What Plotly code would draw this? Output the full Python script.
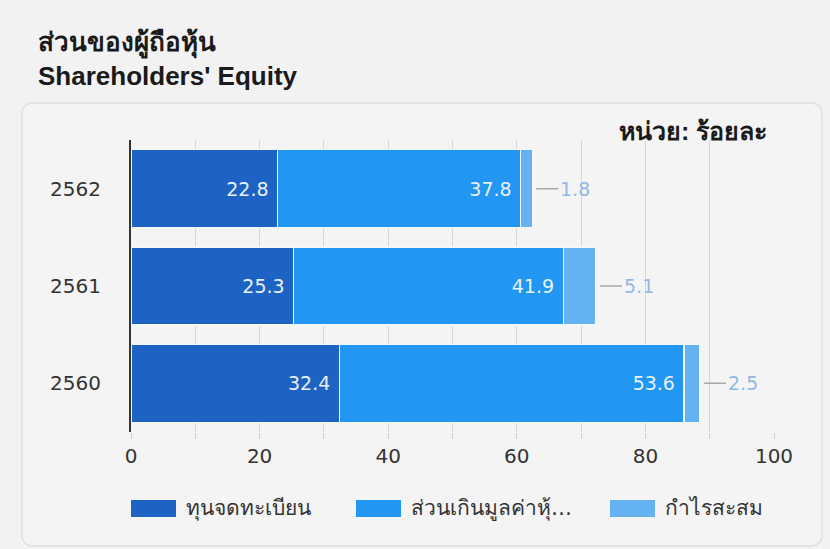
import plotly.graph_objects as go

years = ["2562", "2561", "2560"]
series_names = ["ทุนจดทะเบียน", "ส่วนเกินมูลค่าหุ้…", "กำไรสะสม"]
paid_up = [22.8, 25.3, 32.4]
premium = [37.8, 41.9, 53.6]
retained = [1.8, 5.1, 2.5]
x_ticks = [0, 20, 40, 60, 80, 100]

colors = ["#1c63c3", "#2196f3", "#64b2f2"]
W, H = 830, 549
L, R, T, B = 131, 56, 140, 117
cat_order = years[::-1]  # bottom to top

fig = go.Figure()
for name, vals, col, inside in [
    (series_names[0], paid_up, colors[0], True),
    (series_names[1], premium, colors[1], True),
    (series_names[2], retained, colors[2], False),
]:
    fig.add_trace(go.Bar(
        y=years, x=vals, name=name, orientation="h",
        marker=dict(color=col, line=dict(color="#f4f8fc", width=1.2)),
        text=[f"{v:.1f}\u00a0" for v in vals] if inside else None,
        textposition="inside" if inside else "none",
        insidetextanchor="end",
        textfont=dict(color="#e8f1fb", size=19, family="DejaVu Sans"),
        showlegend=False,
    ))

# outside labels with leader lines for the last series
totals = [a + b + c for a, b, c in zip(paid_up, premium, retained)]
for yr, tot, v in zip(years, totals, retained):
    fig.add_annotation(
        x=tot, y=cat_order.index(yr), xref="x", yref="y", text=f"{v:.1f}",
        showarrow=True, arrowhead=0,
        arrowwidth=1.5, arrowcolor="#a8a8a8", ax=26, ay=0, standoff=4,
        xanchor="left", font=dict(color="#93b8e6", size=19, family="DejaVu Sans"),
    )

px2x = lambda p: (p - L) / (W - L - R)
py2y = lambda p: (H - B - p) / (H - T - B)

# card background
x0, x1, y0, y1, rr = 22, 822, 103, 546, 12
path = (f"M {px2x(x0+rr)} {py2y(y0)} L {px2x(x1-rr)} {py2y(y0)} "
        f"Q {px2x(x1)} {py2y(y0)} {px2x(x1)} {py2y(y0+rr)} "
        f"L {px2x(x1)} {py2y(y1-rr)} Q {px2x(x1)} {py2y(y1)} {px2x(x1-rr)} {py2y(y1)} "
        f"L {px2x(x0+rr)} {py2y(y1)} Q {px2x(x0)} {py2y(y1)} {px2x(x0)} {py2y(y1-rr)} "
        f"L {px2x(x0)} {py2y(y0+rr)} Q {px2x(x0)} {py2y(y0)} {px2x(x0+rr)} {py2y(y0)} Z")
fig.add_shape(type="path", path=path, xref="paper", yref="paper",
              line=dict(color="#e0e0e0", width=1.5), fillcolor="#f4f4f4", layer="below")

# legend (large swatches)
leg_x = [131, 356, 610]
for name, col, lx in zip(series_names, colors, leg_x):
    fig.add_shape(type="rect", xref="paper", yref="paper",
                  x0=px2x(lx), x1=px2x(lx + 45), y0=py2y(517), y1=py2y(500),
                  fillcolor=col, line=dict(width=0))
    fig.add_annotation(text=name, xref="paper", yref="paper", x=px2x(lx + 53),
                       y=py2y(508), xanchor="left", yanchor="middle", showarrow=False,
                       font=dict(size=21, color="#333333", family="DejaVu Sans"))

fig.add_annotation(text="<b>ส่วนของผู้ถือหุ้น<br>Shareholders' Equity</b>",
                   xref="paper", yref="paper", x=px2x(36), y=py2y(25),
                   xanchor="left", yanchor="top", align="left", showarrow=False,
                   font=dict(size=26, color="#1a1a1a", family="Liberation Sans"))
fig.add_annotation(text="<b>หน่วย: ร้อยละ</b>", xref="paper", yref="paper",
                   x=px2x(769), y=py2y(131), xanchor="right", yanchor="middle",
                   showarrow=False, font=dict(size=25, color="#1a1a1a", family="Liberation Sans"))

fig.update_layout(
    width=W, height=H, barmode="stack", bargap=0.2,
    margin=dict(l=L, r=R, t=T, b=B, autoexpand=False),
    paper_bgcolor="#f2f2f2", plot_bgcolor="rgba(0,0,0,0)",
    font=dict(family="DejaVu Sans", color="#333333"),
    showlegend=False,
    xaxis=dict(range=[0, 100], tickvals=x_ticks, showgrid=True, gridcolor="#d6d6d6",
               gridwidth=1,
               minor=dict(dtick=10, showgrid=True, gridcolor="#d6d6d6", ticks="outside",
                          ticklen=6, tickcolor="#d0d0d0"),
               ticks="outside", ticklen=6, tickcolor="#d0d0d0",
               tickfont=dict(size=20, color="#333333"), zeroline=False, showline=False),
    yaxis=dict(type="category", categoryorder="array", categoryarray=cat_order,
               range=[-0.5, len(years) - 0.5],
               showline=True, linecolor="#333333", linewidth=2,
               tickfont=dict(size=20, color="#333333"),
               ticks="outside", ticklen=24, tickcolor="rgba(0,0,0,0)"),
)

fig.write_html("out.html", post_script="document.body.style.margin='0';",
               config={"displayModeBar": False})
